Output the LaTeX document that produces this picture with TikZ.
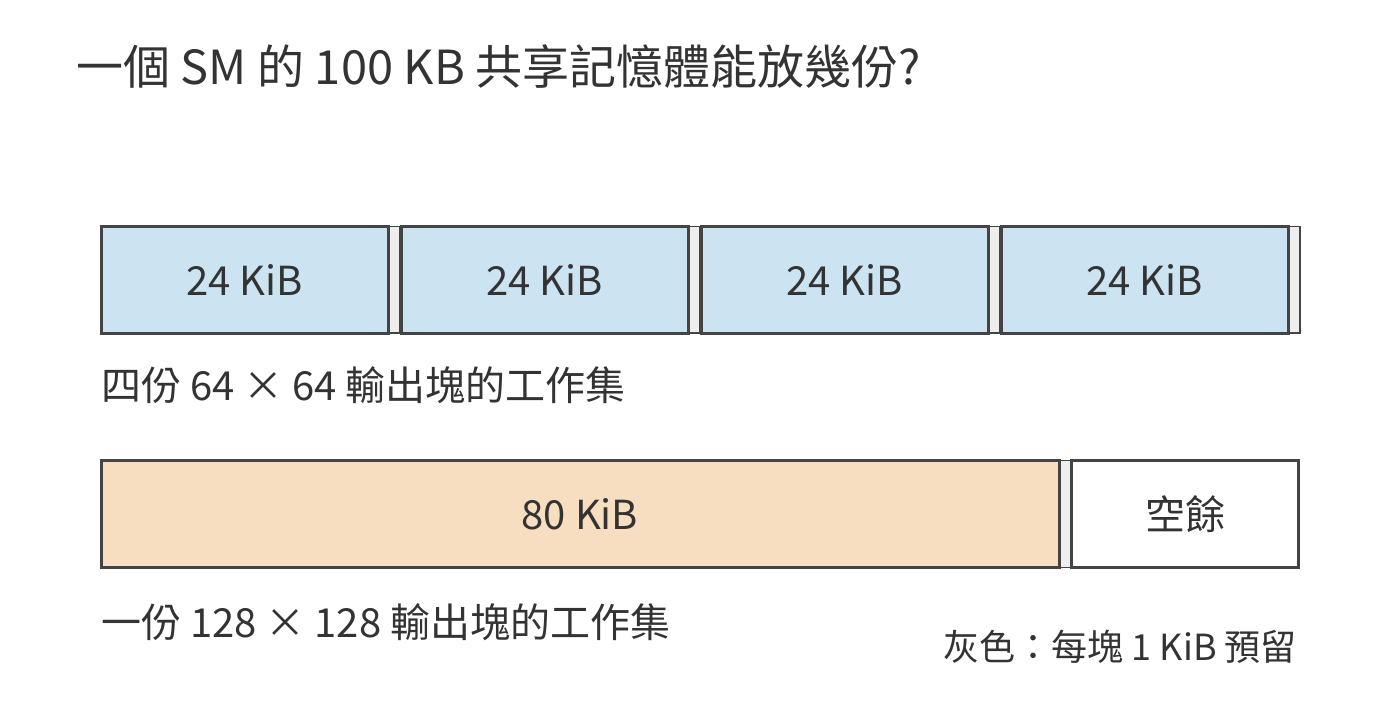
\documentclass[tikz,border=0pt]{standalone}
\usepackage{fontspec}
\setmainfont{Noto Sans CJK TC}
\definecolor{ink}{HTML}{333333}
\definecolor{edge}{HTML}{444444}
\definecolor{blk}{HTML}{CCE3F2}
\definecolor{big}{HTML}{F8DEC1}
\definecolor{rsv}{HTML}{EEEEEE}
\tikzset{
  tile/.style={draw=edge, line width=3pt, inner sep=0pt, outer sep=0pt, anchor=north west,
    text=ink, font=\fontsize{40}{46}\selectfont},
  gapbox/.style={draw=edge, fill=rsv, line width=1.5pt, inner sep=0pt, outer sep=0pt, anchor=north west},
  capt/.style={anchor=base west, inner sep=0pt, text=ink, font=\fontsize{40}{46}\selectfont},
}
\begin{document}
\begin{tikzpicture}[x=1pt,y=-1pt]
\useasboundingbox[fill=white] (0,0) rectangle (1400,720);
\node[anchor=base west, inner sep=0pt, text=ink, font=\fontsize{47}{54}\selectfont] (title) at (76,84) {一個 SM 的 100 KB 共享記憶體能放幾份?};
% row 1: four working sets
\foreach \i in {0,1,2,3} {
  \node[gapbox, minimum width=12pt, minimum height=106.5pt] (g\i) at (388+300*\i,226.5) {};
}
\foreach \i in {0,1,2,3} {
  \node[tile, fill=blk, minimum width=287pt, minimum height=106.5pt] (t\i) at (101+300*\i,226.5) {24 KiB};
}
\node[capt] (cap1) at (101,400) {四份 64 × 64 輸出塊的工作集};
% row 2: one working set
\node[gapbox, minimum width=13pt, minimum height=107pt] (g4) at (1059,460.5) {};
\node[tile, fill=big, minimum width=958pt, minimum height=107pt] (big) at (101,460.5) {80 KiB};
\node[tile, fill=white, minimum width=227pt, minimum height=107pt] (free) at (1071.5,460.5) {空餘};
\node[capt] (cap2) at (101,637) {一份 128 × 128 輸出塊的工作集};
\node[anchor=base east, inner sep=0pt, text=ink, font=\fontsize{36}{42}\selectfont] (legend) at (1297,660) {灰色：每塊 1 KiB 預留};
\end{tikzpicture}
\end{document}
